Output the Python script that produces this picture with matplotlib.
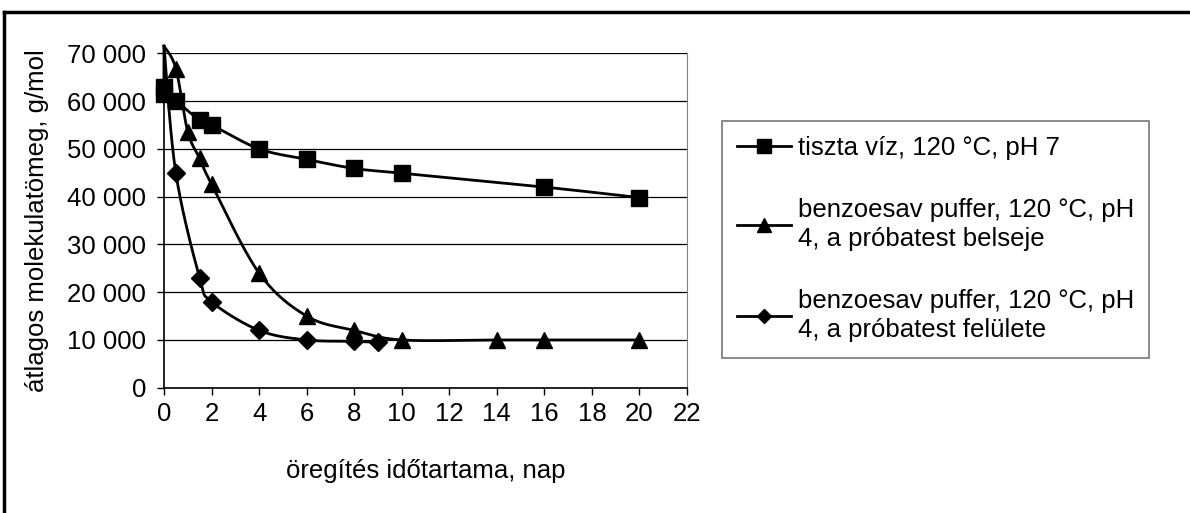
import numpy as np
import matplotlib
matplotlib.use('Agg')
import matplotlib.pyplot as plt
from matplotlib.lines import Line2D

plt.rcParams['font.family'] = ['Liberation Sans', 'DejaVu Sans']

# Data
viz_x = [0, 0, 0, 0.5, 1.5, 2, 4, 6, 8, 10, 16, 20]
viz_y = [71500, 63000, 61500, 60000, 56000, 55000, 50000, 47800, 45900, 44900, 42000, 39800]

bels_x = [0, 0.5, 1, 1.5, 2, 4, 6, 8, 10, 14, 16, 20]
bels_y = [71500, 66800, 53600, 48000, 42600, 24000, 15000, 12000, 10000, 10000, 10000, 10000]

fel_x = [0, 0.5, 1.5, 2, 4, 6, 8, 9]
fel_y = [71500, 44900, 23000, 18000, 12000, 10000, 9700, 9500]

labels = ['tiszta víz, 120 °C, pH 7',
          'benzoesav puffer, 120 °C, pH\n4, a próbatest belseje',
          'benzoesav puffer, 120 °C, pH\n4, a próbatest felülete']
xticks = list(range(0, 23, 2))
yticks = list(range(0, 70001, 10000))

FS = 18.5


def smooth(x, y, n=20):
    # catmull-rom style smoothing, like the spreadsheet "smoothed line"
    x = np.asarray(x, float)
    y = np.asarray(y, float)
    px = np.concatenate([[x[0]], x, [x[-1]]])
    py = np.concatenate([[y[0]], y, [y[-1]]])
    ox, oy = [], []
    t = np.linspace(0, 1, n)
    for i in range(1, len(px) - 2):
        for p, o in ((px, ox), (py, oy)):
            p0, p1, p2, p3 = p[i - 1], p[i], p[i + 1], p[i + 2]
            o.extend(0.5 * ((2 * p1) + (-p0 + p2) * t +
                            (2 * p0 - 5 * p1 + 4 * p2 - p3) * t ** 2 +
                            (-p0 + 3 * p1 - 3 * p2 + p3) * t ** 3))
    return np.array(ox), np.array(oy)


fig = plt.figure(figsize=(11.9, 5.13), dpi=100)
ax = fig.add_axes([0.1378, 0.2442, 0.4395, 0.6519])

series = [(viz_x, viz_y, 's', 12), (bels_x, bels_y, '^', 12), (fel_x, fel_y, 'D', 9)]
handles = []
for (xs, ys, m, ms), lab in zip(series, labels):
    sx, sy = smooth(xs, ys)
    ax.plot(sx, sy, color='black', lw=2, clip_on=False, zorder=3)
    ax.plot(xs[1:], ys[1:], ls='none', marker=m, ms=ms, color='black',
            clip_on=False, zorder=4)
    handles.append(Line2D([], [], color='black', lw=2, marker=m,
                          ms=ms * 0.8))

ax.set_xlim(0, 22)
ax.set_ylim(0, 70000)
ax.set_xticks(xticks)
ax.set_yticks(yticks)
ax.set_yticklabels([f'{v:,}'.replace(',', ' ') for v in yticks])
ax.tick_params(labelsize=FS, direction='out', length=5, width=1, color='black')
ax.tick_params(axis='x', pad=5)
ax.tick_params(axis='y', pad=8)
ax.grid(axis='y', color='black', lw=0.9)
ax.set_axisbelow(True)
ax.spines['top'].set_visible(False)
ax.spines['right'].set_color('gray')
ax.spines['left'].set_linewidth(1.2)
ax.spines['bottom'].set_linewidth(1.2)

ax.set_xlabel('öregítés időtartama, nap', fontsize=FS, labelpad=24)
ax.set_ylabel('átlagos molekulatömeg, g/mol', fontsize=FS, labelpad=13)

leg = fig.legend(handles, labels, loc='upper left',
                 bbox_to_anchor=(722 / 1190, 1 - 121 / 513),
                 fontsize=FS, frameon=True, fancybox=False, handlelength=2.1,
                 handletextpad=0.25, labelspacing=1.45, borderpad=0.6,
                 borderaxespad=0)
for t in leg.get_texts():
    t.set_linespacing(1.3)
leg.get_frame().set_edgecolor('#555555')
leg.get_frame().set_linewidth(1.2)

# outer chart frame (only top and left edges fall inside the picture)
fig.add_artist(Line2D([3.5 / 1190, 3.5 / 1190], [0, 1 - 12 / 513],
                      transform=fig.transFigure, color='black', lw=2.5))
fig.add_artist(Line2D([3.5 / 1190, 1], [1 - 12 / 513, 1 - 12 / 513],
                      transform=fig.transFigure, color='black', lw=2.5))

fig.savefig('out.png', dpi=100)
